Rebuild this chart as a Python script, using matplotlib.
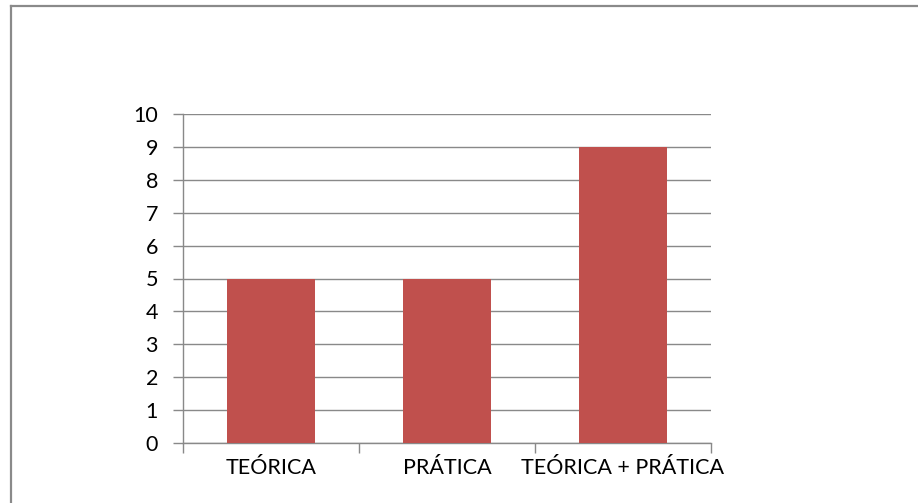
import matplotlib
matplotlib.use("Agg")
import matplotlib.pyplot as plt
from matplotlib.lines import Line2D
from matplotlib.ticker import FixedLocator, NullFormatter

categories = ["TEÓRICA", "PRÁTICA", "TEÓRICA + PRÁTICA"]
values = [5, 5, 9]
y_ticks = list(range(0, 11))

plt.rcParams['font.family'] = ['Lato', 'DejaVu Sans']

W, H = 918, 503
fig = plt.figure(figsize=(W / 100, H / 100), dpi=100)
fig.patch.set_facecolor("white")

left, right, top, bottom = 183, 711, 114, 443
ax = fig.add_axes([left / W, 1 - bottom / H, (right - left) / W, (bottom - top) / H])

grid_c = "#898989"
x = list(range(len(categories)))
ax.bar(x, values, width=0.495, color="#C0504D", zorder=3)

ax.set_xlim(-0.5, len(categories) - 0.5)
ax.set_ylim(0, 10)
ax.set_yticks(y_ticks)
ax.set_yticklabels([str(t) for t in y_ticks])
ax.yaxis.grid(True, color=grid_c, linewidth=1.0, zorder=0)
ax.set_axisbelow(True)

ax.set_xticks(x)
ax.set_xticklabels(categories)
ax.xaxis.set_minor_locator(FixedLocator([i - 0.5 for i in range(len(categories) + 1)]))
ax.xaxis.set_minor_formatter(NullFormatter())
ax.tick_params(axis="x", which="major", length=0, pad=11, labelsize=15.5, colors="black")
ax.tick_params(axis="x", which="minor", length=7, width=1.0, color=grid_c, direction="out")
ax.tick_params(axis="y", length=7, width=1.0, color=grid_c, direction="out", pad=11, labelsize=15.5, labelcolor="black")

for s in ["top", "right"]:
    ax.spines[s].set_visible(False)
for s in ["left", "bottom"]:
    ax.spines[s].set_color(grid_c)
    ax.spines[s].set_linewidth(1.0)

# outer chart border (top and left only visible)
bx, by = 10.5 / W, 1 - 5.5 / H
fig.add_artist(Line2D([bx, 1.0], [by, by], transform=fig.transFigure, color="#8a8a8a", linewidth=1.6))
fig.add_artist(Line2D([bx, bx], [by, 0.0], transform=fig.transFigure, color="#8a8a8a", linewidth=1.6))

fig.savefig("out.png", dpi=100, facecolor="white")
